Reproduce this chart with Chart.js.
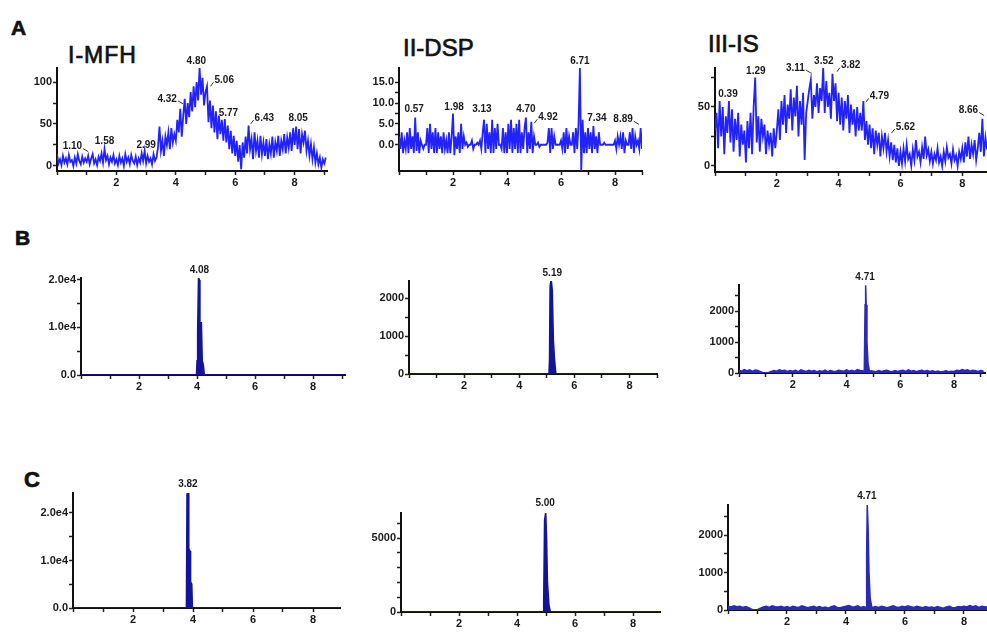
<!DOCTYPE html>
<html>
<head>
<meta charset="utf-8">
<script src="https://cdn.jsdelivr.net/npm/chart.js@4.4.0/dist/chart.umd.min.js"></script>
<style>
  body { margin: 0; background: #fff; width: 987px; height: 632px; overflow: hidden; position: relative;
         font-family: "Liberation Sans", Arial, sans-serif; }
  canvas { position: absolute; }
  .t { position: absolute; color: #111; white-space: nowrap; line-height: 1; -webkit-text-stroke: 0.7px #111; }
</style>
</head>
<body>
<div class="t" style="left:11px;top:17px;font-size:21px;font-weight:bold">A</div>
<div class="t" style="left:15px;top:227px;font-size:21px;font-weight:bold">B</div>
<div class="t" style="left:24px;top:469px;font-size:22px;font-weight:bold">C</div>
<div class="t" style="left:68px;top:44px;font-size:23px;letter-spacing:1px">I-MFH</div>
<div class="t" style="left:403px;top:36px;font-size:24px">II-DSP</div>
<div class="t" style="left:708px;top:32px;font-size:24px">III-IS</div>

<script>
// sampling of the row A traces (minutes)
const traceStep = 0.05;
const xTicks = [0, 1, 2, 3, 4, 5, 6, 7, 8, 9];
const xLabels = [2, 4, 6, 8];

// ---- row A : blank samples (noisy traces) ----
const mfhTrace = [
  14,3,8,1,12,4,9,2,13,5,7,0,10,3,14,6,2,11,4,9,
  5,12,2,9,14,3,8,1,11,6,15,4,20,7,12,2,10,5,13,3,
  8,1,12,4,9,0,14,5,10,2,13,6,3,11,1,9,4,15,6,18,
  3,12,5,9,2,14,6,10,22,47,18,30,12,35,25,40,20,45,28,38,
  30,55,40,68,35,60,80,50,75,58,88,65,95,70,100,78,117,85,105,72,
  88,95,52,78,45,72,40,65,32,60,38,55,30,56,28,48,20,42,15,36,
  12,30,5,25,-4,28,10,35,15,48,20,32,8,40,18,30,10,36,14,28,
  12,32,8,26,15,35,10,28,18,36,12,30,20,38,15,34,22,40,18,45,
  25,47,20,44,15,38,28,42,18,30,12,26,8,22,4,15,2,10,-2,8,3,10
];
const dspTrace = [
  2,-1,3,-2,1,-1,3,-2,4,-1,2,-2,6.5,-1.5,3,-2,1,0,-1,0,
  0,4,-2,5,-1,3,-2,4,-2,3,-1,2,-2,3,-1,1,-2,3,-2,2,
  7.5,-2.5,2,-1,3,-2,5,-1,2,0,0.5,-0.5,0,0,1,-1,0,0,0.5,0,
  1,-1,3,6,-2,5,-1,3,-2,6,-2,4,-1,5,0,0,-1,4,-2,3,
  -2,5,-1,6,-2,4,-1,5,-2,6,-2,3,-1,4,6.5,-2,3,-1,5.5,-2,
  2,0,0,0.5,-0.5,0,0,0,0,0,0.5,4,-2,4,-1,2,0,0,0,0,
  1,-1,3,-2,4,-1,2,0,0,3,-2,4,-1,5,18.4,-6.3,6,-2,3,-2,
  4,-1,3,-2,4.5,-1,2,-2,3,0,0,0,0.5,0,0,0,0,0,0,0,
  1,-1,2,0,2,-1,3,-2,1,0,0,3,-1,4,-2,2,0,1,-1,4,-1
];
const isTrace = [
  30,45,15,55,25,50,10,42,28,55,20,48,12,40,22,45,8,35,18,30,
  3,38,15,45,10,50,75,20,42,12,40,25,35,10,30,18,28,8,32,15,
  30,48,22,55,35,60,28,52,40,65,30,58,42,68,25,55,35,62,5,45,
  55,65,73,40,60,50,70,45,66,55,83,45,72,50,62,40,78,55,70,38,
  62,35,58,30,55,40,60,28,52,35,48,25,50,30,45,30,55,22,38,18,
  35,15,32,10,30,18,28,8,25,15,28,12,22,8,20,5,18,3,15,0,
  12,2,15,4,18,6,10,0,14,5,22,8,12,3,16,6,25,9,14,4,
  12,2,10,5,15,3,8,0,12,4,16,7,10,2,14,5,9,0,12,6,
  15,3,20,8,25,6,18,10,22,5,15,28,12,40,8,24,14
];

// ---- rows B and C : peaks [time, intensity] ----
const mfhStdPeak = [[0,0],[3.98,0],[4.0,3000],[4.02,9000],[4.05,20500],[4.08,20000],[4.1,11000],[4.15,11000],[4.18,3000],[4.22,2000],[4.25,0],[9.1,0]];
const dspStdPeak = [[0,0],[5.08,0],[5.1,400],[5.12,2300],[5.16,2500],[5.2,2200],[5.24,900],[5.28,400],[5.33,0],[9.0,0]];
const isStdPeak = [[4.66,60],[4.69,2200],[4.71,2830],[4.73,2200],[4.76,1000],[4.8,300],[4.85,60]];
const mfhSamPeak = [[0,0],[3.78,0],[3.8,24000],[3.84,24200],[3.86,12500],[3.9,12000],[3.92,5500],[3.96,5000],[3.98,0],[8.9,0]];
const dspSamPeak = [[0,0],[4.9,0],[4.92,800],[4.95,6200],[4.99,6750],[5.02,5000],[5.05,2000],[5.1,500],[5.15,0],[8.95,0]];
const isSamPeak = [[4.68,60],[4.7,1500],[4.72,2800],[4.75,2200],[4.78,1000],[4.82,300],[4.88,60]];
// IS baselines, one value every 0.1 min
const isStdBase = [
  90,60,110,70,100,50,95,80,40,10, 0,20,50,80,60,100,70,90,50,80,
  60,90,40,100,70,50,90,60,80,40, 70,50,90,40,80,60,50,90,70,60,
  100,60,90,50,110,80,70,90,80,70, 60,40,80,50,70,90,60,40,80,50,
  70,90,50,100,60,80,40,70,90,60, 80,50,70,40,60,30,50,70,40,60,
  50,90,70,110,80,100,60,90,70,50, 80,60
];
const isSamBase = [
  100,80,110,90,100,70,95,60,20,0, 10,50,80,100,70,110,90,80,100,70,
  90,60,100,80,70,110,90,60,80,100, 70,90,60,80,50,90,110,70,60,80,
  100,120,80,90,110,70,90,80,60,70, 90,70,100,80,60,90,110,80,70,100,
  80,110,90,70,100,80,60,90,70,80, 60,90,70,50,80,100,70,60,90,80,
  100,80,120,90,110,70,100,90,80
];

// ---- peak annotations [text, time, intensity, leader] ----
const mfhBlankLabels = [["1.10",0.52,23,"r"],["1.58",1.6,29],["2.99",3.0,25],["4.32",3.71,80,"r"],["4.80",4.69,125],
  ["5.06",5.63,102,"l"],["5.77",5.77,63],["6.43",6.98,57,"l"],["8.05",8.12,57]];
const dspBlankLabels = [["6.71",6.7,19.9],["0.57",0.56,8.4],["1.98",2.04,8.9],["3.13",3.07,8.4],["4.70",4.7,8.4],
  ["4.92",5.52,6.6,"l"],["7.34",7.33,6.3],["8.89",8.3,6.1,"r"]];
const isBlankLabels = [["0.39",0.42,61],["1.29",1.32,80],["3.11",2.6,83,"r"],["3.52",3.52,89],["3.82",4.39,85,"l"],
  ["4.79",5.32,59,"l"],["5.62",6.16,33,"l"],["8.66",8.2,47,"r"]];
const mfhStdLabels = [["4.08",4.08,22100]];
const dspStdLabels = [["5.19",5.2,2660]];
const isStdLabels = [["4.71",4.69,3100]];
const mfhSamLabels = [["3.82",3.83,26000]];
const dspSamLabels = [["5.00",4.97,7360]];
const isSamLabels = [["4.71",4.71,3030]];

// ---- y ticks ----
const mfhYTicks = [0,25,50,75,100], mfhYLabels = ["0","","50","","100"];
const dspYTicks = [0,2.5,5,7.5,10,12.5,15], dspYLabels = ["0.0","","5.0","","10.0","","15.0"];
const isYTicks = [0,25,50,75], isYLabels = ["0","","50",""];
const e4YTicks = [0,5000,10000,15000,20000], e4YLabels = ["0.0","","1.0e4","","2.0e4"];
const kYTicks = [0,500,1000,1500,2000,2500], kYLabels = ["0","","1000","","2000",""];
const c2YTicks = [0,1000,2000,3000,4000,5000,6000], c2YLabels = ["0","","","","","5000",""];

const BLUE = "#2222ff", NAVY = "#14149a", BASE = "#2a2ab4";

function tracePoints(vals) { return vals.map((v, i) => ({ x: i * traceStep, y: v })); }
function pairPoints(arr) { return arr.map(p => ({ x: p[0], y: p[1] })); }
function withBase(base, peak) {
  const lo = peak[0][0], hi = peak[peak.length - 1][0];
  const pts = base.map((v, i) => ({ x: i / 10, y: v })).filter(p => p.x < lo || p.x > hi);
  return pts.concat(pairPoints(peak)).sort((a, b) => a.x - b.x);
}

const peakText = {
  id: "peakText",
  afterDatasetsDraw(chart, args, opts) {
    const { ctx, scales: { x, y } } = chart;
    ctx.save();
    ctx.font = 'bold 10px "Liberation Sans", Arial, sans-serif';
    ctx.fillStyle = "#1a1a1a";
    ctx.strokeStyle = "#333";
    ctx.lineWidth = 1;
    ctx.textAlign = "center";
    ctx.textBaseline = "middle";
    (opts.labels || []).forEach(([t, vx, vy, lead]) => {
      const px = x.getPixelForValue(vx), py = y.getPixelForValue(vy);
      ctx.fillText(t, px, py);
      const w = ctx.measureText(t).width / 2;
      if (lead === "r") {
        ctx.beginPath(); ctx.moveTo(px + w + 1, py + 2); ctx.lineTo(px + w + 6, py + 5); ctx.stroke();
      } else if (lead === "l") {
        ctx.beginPath(); ctx.moveTo(px - w - 1, py + 2); ctx.lineTo(px - w - 4, py + 6); ctx.stroke();
      }
    });
    ctx.restore();
  }
};

const YW = 46, XH = 24, PT = 22;
const tickFont = { family: '"Liberation Sans", Arial, sans-serif', size: 11, weight: "bold" };

function makePanel(p) {
  const pr = p.pr === undefined ? 3 : p.pr;
  const cv = document.createElement("canvas");
  cv.width = p.R - p.L + YW + pr;
  cv.height = p.B - p.T + PT + XH;
  cv.style.left = (p.L - YW) + "px";
  cv.style.top = (p.T - PT) + "px";
  document.body.appendChild(cv);
  new Chart(cv, {
    type: "line",
    data: { datasets: p.datasets },
    options: {
      responsive: false, animation: false, events: [],
      layout: { padding: { left: 0, right: pr, top: PT, bottom: 0 } },
      elements: { point: { radius: 0 }, line: { tension: 0 } },
      plugins: { legend: { display: false }, tooltip: { enabled: false }, peakText: { labels: p.labels } },
      scales: {
        x: {
          type: "linear", min: p.xmin, max: p.xmax,
          afterFit: s => { s.height = XH; },
          afterBuildTicks: s => { s.ticks = xTicks.filter(v => v <= p.xmax).map(v => ({ value: v })); },
          ticks: { autoSkip: false, maxRotation: 0, padding: 1, color: "#1a1a1a", font: tickFont,
                   callback: v => xLabels.includes(v) ? String(v) : "" },
          grid: { drawOnChartArea: false, tickLength: 4, tickColor: "#222", tickWidth: 1.5 },
          border: { color: "#111", width: 2 }
        },
        y: {
          type: "linear", min: p.ymin, max: p.ymax,
          afterFit: s => { s.width = YW; },
          afterBuildTicks: s => { s.ticks = p.yTicks.map(v => ({ value: v })); },
          ticks: { autoSkip: false, padding: 1, color: "#1a1a1a", font: tickFont,
                   callback: (v, i) => p.yLabels[i] },
          grid: { drawOnChartArea: false, tickLength: 4, tickColor: "#222", tickWidth: 1.5 },
          border: { color: "#111", width: 2 }
        }
      }
    },
    plugins: [peakText]
  });
}

function lineSet(points) {
  return { data: points, borderColor: BLUE, borderWidth: 1.8, fill: false };
}
function peakSet(points, color) {
  return { data: points, borderColor: color, backgroundColor: color, borderWidth: 1.5, fill: "origin" };
}

// row A
makePanel({ L: 57, R: 327, T: 68, B: 171, xmin: 0, xmax: 9.09, ymin: -6, ymax: 116.7,
  yTicks: mfhYTicks, yLabels: mfhYLabels, labels: mfhBlankLabels, datasets: [lineSet(tracePoints(mfhTrace))] });
makePanel({ L: 399, R: 642, T: 68, B: 171, xmin: 0, xmax: 9.0, ymin: -6.3, ymax: 18.4,
  yTicks: dspYTicks, yLabels: dspYLabels, labels: dspBlankLabels, datasets: [lineSet(tracePoints(dspTrace))] });
makePanel({ L: 715, R: 987, T: 68, B: 172, xmin: 0, xmax: 8.8, ymin: -5.1, ymax: 83, pr: 0,
  yTicks: isYTicks, yLabels: isYLabels, labels: isBlankLabels, datasets: [lineSet(tracePoints(isTrace))] });
// row B
makePanel({ L: 81, R: 345, T: 278, B: 375, xmin: 0, xmax: 9.1, ymin: 0, ymax: 20400,
  yTicks: e4YTicks, yLabels: e4YLabels, labels: mfhStdLabels, datasets: [peakSet(pairPoints(mfhStdPeak), NAVY)] });
makePanel({ L: 409, R: 657, T: 281, B: 374, xmin: 0, xmax: 9.0, ymin: 0, ymax: 2450,
  yTicks: kYTicks.slice(0, 5), yLabels: kYLabels, labels: dspStdLabels, datasets: [peakSet(pairPoints(dspStdPeak), NAVY)] });
makePanel({ L: 739, R: 985, T: 285, B: 373, xmin: 0, xmax: 9.15, ymin: 0, ymax: 2840, pr: 2,
  yTicks: kYTicks, yLabels: kYLabels, labels: isStdLabels, datasets: [peakSet(withBase(isStdBase, isStdPeak), BASE)] });
// row C
makePanel({ L: 73, R: 340, T: 493, B: 608, xmin: 0, xmax: 8.9, ymin: 0, ymax: 24200,
  yTicks: e4YTicks, yLabels: e4YLabels, labels: mfhSamLabels, datasets: [peakSet(pairPoints(mfhSamPeak), NAVY)] });
makePanel({ L: 401, R: 660, T: 513, B: 612, xmin: 0, xmax: 8.93, ymin: 0, ymax: 6690,
  yTicks: c2YTicks, yLabels: c2YLabels, labels: dspSamLabels, datasets: [peakSet(pairPoints(dspSamPeak), NAVY)] });
makePanel({ L: 728, R: 987, T: 505, B: 610, xmin: 0, xmax: 8.78, ymin: 0, ymax: 2800, pr: 0,
  yTicks: kYTicks, yLabels: kYLabels, labels: isSamLabels, datasets: [peakSet(withBase(isSamBase, isSamPeak), BASE)] });
</script>
</body>
</html>
